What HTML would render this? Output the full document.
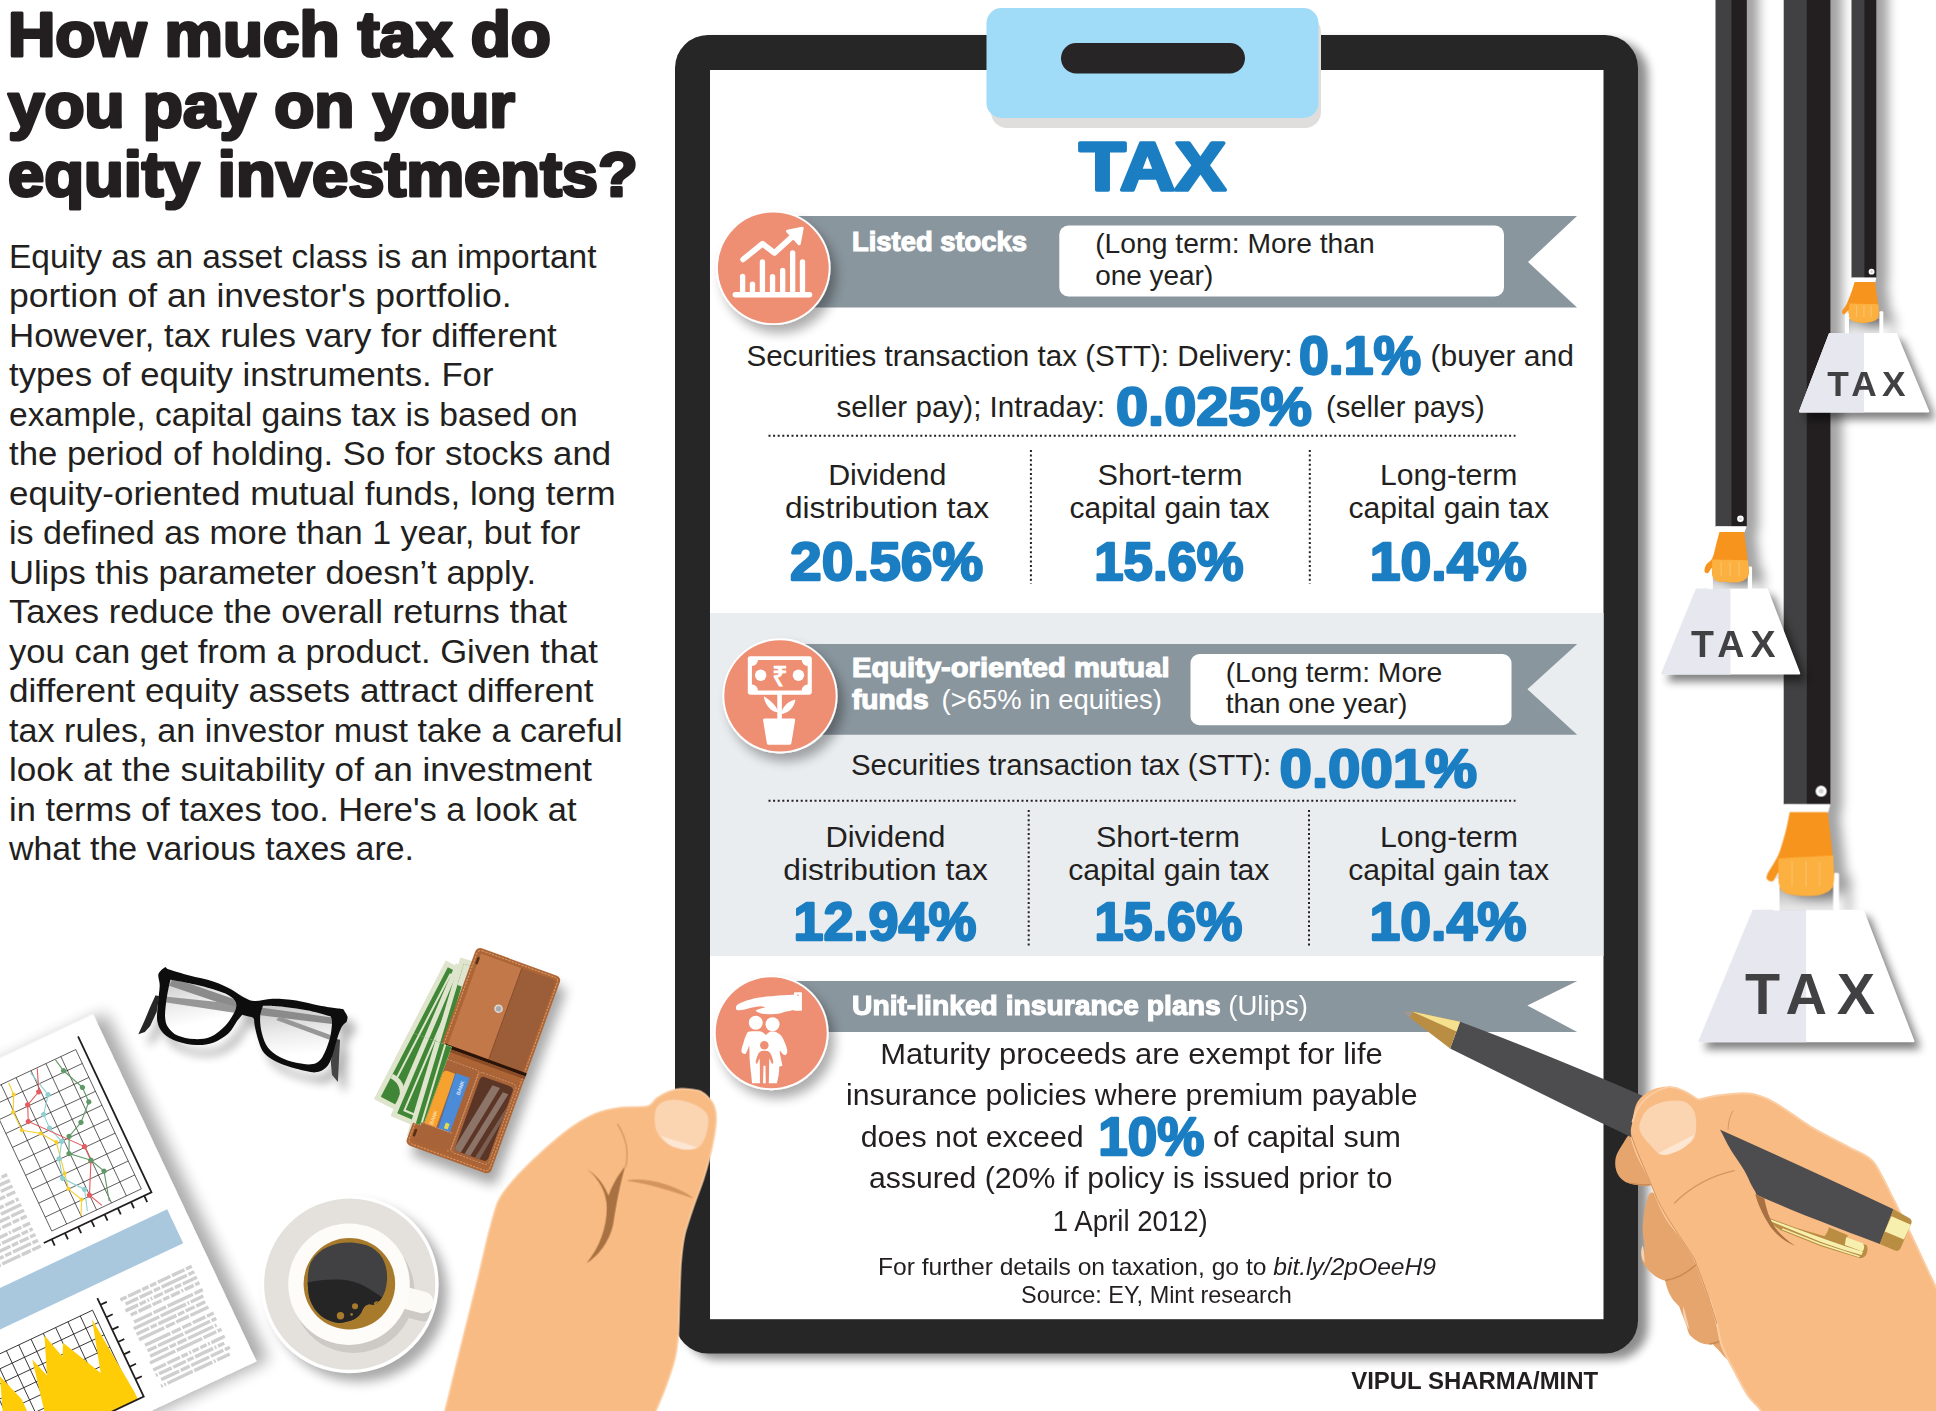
<!DOCTYPE html>
<html lang="en"><head><meta charset="utf-8"><title>How much tax do you pay on your equity investments?</title>
<style>
html,body{margin:0;padding:0;background:#fff;}
body{width:1936px;height:1411px;overflow:hidden;font-family:"Liberation Sans",sans-serif;}
svg{display:block;}
text{font-family:"Liberation Sans",sans-serif;}
.b{font-weight:bold;}
.k{fill:#231f20;}
.bl{fill:#1b7ec2;font-weight:bold;stroke:#1b7ec2;stroke-width:2.3px;stroke-linejoin:round;}
.w{fill:#fff;}
</style></head><body>
<svg width="1936" height="1411" viewBox="0 0 1936 1411">
<defs>
<filter id="sh" x="-20%" y="-20%" width="150%" height="150%"><feGaussianBlur in="SourceAlpha" stdDeviation="5"/><feOffset dx="10" dy="6"/><feComponentTransfer><feFuncA type="linear" slope="0.45"/></feComponentTransfer><feMerge><feMergeNode/><feMergeNode in="SourceGraphic"/></feMerge></filter>
<filter id="shs" x="-20%" y="-20%" width="150%" height="150%"><feGaussianBlur in="SourceAlpha" stdDeviation="4"/><feOffset dx="6" dy="6"/><feComponentTransfer><feFuncA type="linear" slope="0.4"/></feComponentTransfer><feMerge><feMergeNode/><feMergeNode in="SourceGraphic"/></feMerge></filter>
<filter id="shc" x="-20%" y="-20%" width="150%" height="150%"><feGaussianBlur in="SourceAlpha" stdDeviation="6"/><feOffset dx="6" dy="8"/><feComponentTransfer><feFuncA type="linear" slope="0.33"/></feComponentTransfer><feMerge><feMergeNode/><feMergeNode in="SourceGraphic"/></feMerge></filter>
<filter id="shd" x="-10%" y="-10%" width="130%" height="130%"><feGaussianBlur in="SourceAlpha" stdDeviation="8"/><feOffset dx="12" dy="4"/><feComponentTransfer><feFuncA type="linear" slope="0.33"/></feComponentTransfer><feMerge><feMergeNode/><feMergeNode in="SourceGraphic"/></feMerge></filter>
<filter id="shg" x="-20%" y="-20%" width="150%" height="160%"><feGaussianBlur stdDeviation="42"/><feOffset dx="70" dy="90"/><feComponentTransfer><feFuncA type="linear" slope="0.3"/></feComponentTransfer></filter>
<linearGradient id="lensg" x1="0" y1="0" x2="0.25" y2="1"><stop offset="0" stop-color="#c9c9c9"/><stop offset="0.45" stop-color="#ececec"/><stop offset="0.8" stop-color="#fff"/></linearGradient>
<linearGradient id="lensg2" x1="0.3" y1="0" x2="0.4" y2="1"><stop offset="0" stop-color="#c9c9c9"/><stop offset="0.5" stop-color="#eee"/><stop offset="0.85" stop-color="#fff"/></linearGradient>
<filter id="shw" x="-30%" y="-20%" width="170%" height="150%"><feGaussianBlur stdDeviation="6"/><feOffset dx="9" dy="9"/><feComponentTransfer><feFuncA type="linear" slope="0.34"/></feComponentTransfer></filter>
<linearGradient id="armsh" x1="0" y1="0" x2="1" y2="0"><stop offset="0" stop-color="#000" stop-opacity="0.36"/><stop offset="0.12" stop-color="#000" stop-opacity="0.33"/><stop offset="0.55" stop-color="#000" stop-opacity="0.07"/><stop offset="1" stop-color="#000" stop-opacity="0"/></linearGradient>
<linearGradient id="hsh" x1="0" y1="0" x2="0" y2="1"><stop offset="0" stop-color="#000" stop-opacity="0.3"/><stop offset="1" stop-color="#000" stop-opacity="0.08"/></linearGradient>
<filter id="shwt" x="-20%" y="-20%" width="150%" height="150%"><feGaussianBlur stdDeviation="4"/><feOffset dx="6" dy="7"/><feComponentTransfer><feFuncA type="linear" slope="0.5"/></feComponentTransfer></filter>
<filter id="sharm" filterUnits="userSpaceOnUse" x="1600" y="-60" width="400" height="1200"><feGaussianBlur stdDeviation="5.5"/><feOffset dx="12" dy="3"/><feComponentTransfer><feFuncA type="linear" slope="0.36"/></feComponentTransfer></filter>
</defs>
<g id="doc" transform="translate(256.4 1361.3) rotate(-25.2)">
<rect x="-420" y="-383.2" width="420" height="383.2" fill="#fff" filter="url(#shd)"/>
<path d="M-30.7 -359V-205.0M-47.2 -359V-205.0M-63.7 -359V-205.0M-80.2 -359V-205.0M-96.7 -359V-205.0M-113.2 -359V-205.0M-129.7 -359V-205.0M-30.7 -359.0H-129.7M-30.7 -343.6H-129.7M-30.7 -328.2H-129.7M-30.7 -312.8H-129.7M-30.7 -297.4H-129.7M-30.7 -282.0H-129.7M-30.7 -266.6H-129.7M-30.7 -251.2H-129.7M-30.7 -235.8H-129.7M-30.7 -220.4H-129.7M-30.7 -205.0H-129.7" stroke="#231f20" stroke-width="0.65" fill="none"/>
<path d="M-23 -370V-197.6H-142M-31.0 -197.6v7M-45.6 -197.6v7M-60.2 -197.6v7M-74.8 -197.6v7M-89.4 -197.6v7M-104.0 -197.6v7M-118.6 -197.6v7M-133.2 -197.6v7" stroke="#231f20" stroke-width="1.8" fill="none"/>
<polyline points="-105.6,-357.2 -106.1,-344.6 -114.1,-329.0 -113.8,-308.9 -98.1,-298.0 -87.8,-283.5 -93.5,-251.7 -96.6,-236.1 -89.3,-220.8 -96.7,-206.5" fill="none" stroke="#f6cf2c" stroke-width="1.1"/>
<g fill="#f6cf2c"><circle cx="-106.1" cy="-344.6" r="2.0"/><circle cx="-114.1" cy="-329.0" r="2.0"/><circle cx="-113.8" cy="-308.9" r="2.0"/><circle cx="-98.1" cy="-298.0" r="2.0"/><circle cx="-87.8" cy="-283.5" r="2.0"/><circle cx="-93.5" cy="-251.7" r="2.0"/><circle cx="-96.6" cy="-236.1" r="2.0"/><circle cx="-89.3" cy="-220.8" r="2.0"/></g>
<polyline points="-81.5,-357.1 -75.0,-329.9 -87.4,-313.9 -87.9,-299.0 -82.4,-281.9 -92.3,-267.2 -97.4,-248.1 -82.3,-228.7 -89.0,-207.7" fill="none" stroke="#8fcfd2" stroke-width="1.1"/>
<g fill="#8fcfd2"><circle cx="-75.0" cy="-329.9" r="2.6"/><circle cx="-87.4" cy="-313.9" r="2.6"/><circle cx="-87.9" cy="-299.0" r="2.6"/><circle cx="-82.4" cy="-281.9" r="2.6"/><circle cx="-92.3" cy="-267.2" r="2.6"/><circle cx="-97.4" cy="-248.1" r="2.6"/><circle cx="-82.3" cy="-228.7" r="2.6"/></g>
<polyline points="-73.6,-358.2 -82.2,-336.5 -97.8,-329.4 -104.3,-314.1 -64.1,-267.5 -64.4,-251.8 -80.3,-221.4 -73.4,-206.8" fill="none" stroke="#e75a5e" stroke-width="1.1"/>
<g fill="#e75a5e"><circle cx="-82.2" cy="-336.5" r="2.6"/><circle cx="-97.8" cy="-329.4" r="2.6"/><circle cx="-104.3" cy="-314.1" r="2.6"/><circle cx="-64.1" cy="-267.5" r="2.6"/><circle cx="-64.4" cy="-251.8" r="2.6"/><circle cx="-80.3" cy="-221.4" r="2.6"/></g>
<polyline points="-53.5,-358.5 -50.8,-345.0 -40.8,-321.9 -41.2,-306.0 -57.0,-290.9 -73.7,-283.3 -81.1,-267.7 -64.1,-252.4 -56.9,-237.0 -64.9,-207.6" fill="none" stroke="#5f9a66" stroke-width="1.1"/>
<g fill="#5f9a66"><circle cx="-50.8" cy="-345.0" r="2.6"/><circle cx="-40.8" cy="-321.9" r="2.6"/><circle cx="-41.2" cy="-306.0" r="2.6"/><circle cx="-57.0" cy="-290.9" r="2.6"/><circle cx="-73.7" cy="-283.3" r="2.6"/><circle cx="-81.1" cy="-267.7" r="2.6"/><circle cx="-64.1" cy="-252.4" r="2.6"/><circle cx="-56.9" cy="-237.0" r="2.6"/></g>
<path d="M-297.0 -275.0h2.0M-293.4 -275.0h28.0M-263.8 -275.0h14.0M-248.2 -275.0h14.0M-232.6 -275.0h7.0M-224.0 -275.0h2.0M-220.4 -275.0h2.0M-216.8 -275.0h2.0M-213.2 -275.0h14.0M-197.6 -275.0h20.0M-176.0 -275.0h10.0M-164.4 -275.0h2.0M-160.8 -275.0h7.0M-152.2 -275.0h6.2M-300.0 -268.7h10.0M-288.4 -268.7h7.0M-279.8 -268.7h2.0M-276.2 -268.7h10.0M-264.6 -268.7h7.0M-256.0 -268.7h2.0M-252.4 -268.7h28.0M-222.8 -268.7h10.0M-211.2 -268.7h10.0M-199.6 -268.7h7.0M-191.0 -268.7h7.0M-182.4 -268.7h10.0M-170.8 -268.7h10.0M-159.2 -268.7h13.2M-300.0 -262.4h10.0M-288.4 -262.4h2.0M-284.8 -262.4h20.0M-263.2 -262.4h10.0M-251.6 -262.4h28.0M-222.0 -262.4h14.0M-206.4 -262.4h20.0M-184.8 -262.4h7.0M-176.2 -262.4h7.0M-167.6 -262.4h7.0M-159.0 -262.4h13.0M-297.0 -256.1h20.0M-275.4 -256.1h10.0M-263.8 -256.1h2.0M-260.2 -256.1h10.0M-248.6 -256.1h20.0M-227.0 -256.1h28.0M-197.4 -256.1h10.0M-185.8 -256.1h20.0M-164.2 -256.1h7.0M-155.6 -256.1h9.6M-300.0 -248.2h10.0M-288.4 -248.2h14.0M-272.8 -248.2h14.0M-257.2 -248.2h7.0M-248.6 -248.2h7.0M-240.0 -248.2h10.0M-228.4 -248.2h10.0M-216.8 -248.2h2.0M-213.2 -248.2h2.0M-209.6 -248.2h2.0M-206.0 -248.2h14.0M-190.4 -248.2h28.0M-160.8 -248.2h10.0M-149.2 -248.2h3.2M-300.0 -241.9h14.0M-284.4 -241.9h28.0M-254.8 -241.9h10.0M-243.2 -241.9h7.0M-234.6 -241.9h28.0M-205.0 -241.9h7.0M-196.4 -241.9h2.0M-192.8 -241.9h14.0M-177.2 -241.9h7.0M-168.6 -241.9h22.6M-300.0 -235.6h10.0M-288.4 -235.6h7.0M-279.8 -235.6h10.0M-268.2 -235.6h14.0M-252.6 -235.6h28.0M-223.0 -235.6h20.0M-201.4 -235.6h10.0M-189.8 -235.6h28.0M-160.2 -235.6h14.2M-297.0 -229.3h10.0M-285.4 -229.3h2.0M-281.8 -229.3h2.0M-278.2 -229.3h28.0M-248.6 -229.3h7.0M-240.0 -229.3h10.0M-228.4 -229.3h20.0M-206.8 -229.3h20.0M-185.2 -229.3h7.0M-176.6 -229.3h2.0M-173.0 -229.3h10.0M-161.4 -229.3h7.0M-152.8 -229.3h6.8M-300.0 -221.4h2.0M-296.4 -221.4h10.0M-284.8 -221.4h28.0M-255.2 -221.4h2.0M-251.6 -221.4h10.0M-240.0 -221.4h28.0M-210.4 -221.4h28.0M-180.8 -221.4h10.0M-169.2 -221.4h2.0M-165.6 -221.4h10.0M-154.0 -221.4h8.0M-300.0 -215.1h7.0M-291.4 -215.1h28.0M-261.8 -215.1h14.0M-246.2 -215.1h20.0M-224.6 -215.1h28.0M-195.0 -215.1h2.0M-191.4 -215.1h10.0M-179.8 -215.1h20.0M-158.2 -215.1h7.0M-149.6 -215.1h3.6M-297.0 -208.8h10.0M-285.4 -208.8h14.0M-269.8 -208.8h20.0M-248.2 -208.8h7.0M-239.6 -208.8h10.0M-228.0 -208.8h20.0M-206.4 -208.8h2.0M-202.8 -208.8h10.0M-191.2 -208.8h2.0M-187.6 -208.8h14.0M-172.0 -208.8h7.0M-163.4 -208.8h10.0M-151.8 -208.8h5.8M-300.0 -202.5h20.0M-278.4 -202.5h2.0M-274.8 -202.5h14.0M-259.2 -202.5h7.0M-250.6 -202.5h14.0M-235.0 -202.5h7.0M-226.4 -202.5h2.0M-222.8 -202.5h2.0M-219.2 -202.5h2.0M-215.6 -202.5h2.0M-212.0 -202.5h28.0M-182.4 -202.5h7.0M-173.8 -202.5h20.0M-152.2 -202.5h6.2M-300.0 -196.2h20.0M-278.4 -196.2h2.0M-274.8 -196.2h20.0M-253.2 -196.2h14.0M-237.6 -196.2h20.0M-216.0 -196.2h7.0M-207.4 -196.2h10.0M-195.8 -196.2h2.0M-192.2 -196.2h2.0M-188.6 -196.2h20.0M-167.0 -196.2h10.0M-155.4 -196.2h9.4" stroke="#cfcfcf" stroke-width="3.4" fill="none"/>
<rect x="-420" y="-175.5" width="404" height="37.5" fill="#a9c8dd"/>
<path d="M-126.5 -116V-16M-140.1 -116V-16M-153.7 -116V-16M-167.3 -116V-16M-180.9 -116V-16M-194.5 -116V-16M-208.1 -116V-16M-221.7 -116V-16M-235.3 -116V-16M-248.9 -116V-16M-262.5 -116V-16M-276.1 -116V-16M-289.7 -116V-16M-126.5 -116.0H-289.7M-126.5 -102.4H-289.7M-126.5 -88.8H-289.7M-126.5 -75.2H-289.7M-126.5 -61.6H-289.7M-126.5 -48.0H-289.7M-126.5 -34.4H-289.7M-126.5 -20.8H-289.7" stroke="#231f20" stroke-width="0.8" fill="none"/>
<path d="M-123.4 -16L-123.4 -24.5L-130.8 -108.1L-145.8 -55.8L-167 -99.2L-173.6 -86.7L-180.8 -113.8L-195.5 -76.2L-202 -97.1L-213.1 -45.3L-220 -16Z" fill="#fecd08"/>
<path d="M-228.9 -16L-228.6 -65.8L-238.4 -95.6L-252 -60L-262 -84L-280 -16Z" fill="#fecd08"/>
<path d="M-117 -125V-16H-260M-117 -117.5h7M-117 -103.8h7M-117 -90.1h7M-117 -76.4h7M-117 -62.7h7M-117 -49.0h7M-117 -35.3h7" stroke="#231f20" stroke-width="1.8" fill="none"/>
<path d="M-97.0 -113.5h7.0M-88.4 -113.5h14.0M-72.8 -113.5h7.0M-64.2 -113.5h7.0M-55.6 -113.5h14.0M-40.0 -113.5h14.0M-24.4 -113.5h6.4M-94.0 -107.5h14.0M-78.4 -107.5h14.0M-62.8 -107.5h7.0M-54.2 -107.5h28.0M-24.6 -107.5h6.6M-97.0 -101.4h14.0M-81.4 -101.4h7.0M-72.8 -101.4h2.0M-69.2 -101.4h2.0M-65.6 -101.4h10.0M-54.0 -101.4h10.0M-42.4 -101.4h7.0M-33.8 -101.4h15.8M-94.0 -95.4h7.0M-85.4 -95.4h14.0M-69.8 -95.4h10.0M-58.2 -95.4h7.0M-49.6 -95.4h10.0M-38.0 -95.4h2.0M-34.4 -95.4h10.0M-22.8 -95.4h4.8M-94.0 -87.7h20.0M-72.4 -87.7h14.0M-56.8 -87.7h28.0M-27.2 -87.7h9.2M-97.0 -81.7h28.0M-67.4 -81.7h28.0M-37.8 -81.7h2.0M-34.2 -81.7h14.0M-97.0 -75.6h14.0M-81.4 -75.6h7.0M-72.8 -75.6h20.0M-51.2 -75.6h7.0M-42.6 -75.6h10.0M-31.0 -75.6h10.0M-97.0 -69.6h28.0M-67.4 -69.6h10.0M-55.8 -69.6h14.0M-40.2 -69.6h20.0M-94.0 -61.9h28.0M-64.4 -61.9h10.0M-52.8 -61.9h10.0M-41.2 -61.9h14.0M-25.6 -61.9h7.6M-94.0 -55.9h10.0M-82.4 -55.9h28.0M-52.8 -55.9h28.0M-23.2 -55.9h5.2M-94.0 -49.8h20.0M-72.4 -49.8h7.0M-63.8 -49.8h10.0M-52.2 -49.8h28.0M-22.6 -49.8h2.0M-97.0 -43.8h28.0M-67.4 -43.8h28.0M-37.8 -43.8h14.0M-22.2 -43.8h4.2M-97.0 -36.1h14.0M-81.4 -36.1h14.0M-65.8 -36.1h7.0M-57.2 -36.1h2.0M-53.6 -36.1h7.0M-45.0 -36.1h7.0M-36.4 -36.1h2.0M-32.8 -36.1h14.8M-97.0 -30.1h2.0M-93.4 -30.1h14.0M-77.8 -30.1h14.0M-62.2 -30.1h7.0M-53.6 -30.1h20.0M-32.0 -30.1h2.0M-28.4 -30.1h7.0M-94.0 -24.0h20.0M-72.4 -24.0h10.0M-60.8 -24.0h20.0M-39.2 -24.0h14.0M-23.6 -24.0h5.6M-97.0 -18.0h2.0M-93.4 -18.0h2.0M-89.8 -18.0h28.0M-60.2 -18.0h20.0M-38.6 -18.0h2.0M-35.0 -18.0h14.0" stroke="#cfcfcf" stroke-width="3.4" fill="none"/>
</g>
<g id="glasses" transform="translate(130 950) scale(0.11881)">
<g filter="url(#shg)"><path d="M300.0 140.0C300.0 140.0 296.7 152.5 330.0 165.0C363.3 177.5 438.3 198.3 500.0 215.0C561.7 231.7 641.7 245.8 700.0 265.0C758.3 284.2 806.7 307.5 850.0 330.0C893.3 352.5 926.7 383.3 960.0 400.0C993.3 416.7 1010.0 428.3 1050.0 430.0C1090.0 431.7 1141.7 410.8 1200.0 410.0C1258.3 409.2 1333.3 415.0 1400.0 425.0C1466.7 435.0 1534.2 457.8 1600.0 470.0C1665.8 482.2 1795.0 498.0 1795.0 498.0C1795.0 498.0 1825.5 542.2 1830.0 560.0C1834.5 577.8 1822.0 605.0 1822.0 605.0C1822.0 605.0 1793.7 624.2 1780.0 650.0C1766.3 675.8 1753.3 718.3 1740.0 760.0C1726.7 801.7 1715.0 861.7 1700.0 900.0C1685.0 938.3 1673.3 968.3 1650.0 990.0C1626.7 1011.7 1601.7 1028.3 1560.0 1030.0C1518.3 1031.7 1451.7 1013.3 1400.0 1000.0C1348.3 986.7 1295.0 971.7 1250.0 950.0C1205.0 928.3 1158.3 901.7 1130.0 870.0C1101.7 838.3 1093.3 798.3 1080.0 760.0C1066.7 721.7 1056.7 670.8 1050.0 640.0C1043.3 609.2 1048.3 588.3 1040.0 575.0C1031.7 561.7 1015.8 565.0 1000.0 560.0C984.2 555.0 945.0 545.0 945.0 545.0C945.0 545.0 919.2 574.2 900.0 600.0C880.8 625.8 863.3 670.0 830.0 700.0C796.7 730.0 745.0 763.3 700.0 780.0C655.0 796.7 610.0 801.7 560.0 800.0C510.0 798.3 446.7 786.7 400.0 770.0C353.3 753.3 308.3 728.3 280.0 700.0C251.7 671.7 237.5 641.7 230.0 600.0C222.5 558.3 231.7 500.0 235.0 450.0C238.3 400.0 249.2 341.7 250.0 300.0C250.8 258.3 231.7 226.7 240.0 200.0C248.3 173.3 300.0 140.0 300.0 140.0ZM340.0 250.0C340.0 250.0 440.0 266.7 500.0 280.0C560.0 293.3 645.0 313.3 700.0 330.0C755.0 346.7 798.3 361.7 830.0 380.0C861.7 398.3 881.7 416.7 890.0 440.0C898.3 463.3 895.0 486.7 880.0 520.0C865.0 553.3 833.3 605.0 800.0 640.0C766.7 675.0 723.3 711.7 680.0 730.0C636.7 748.3 586.7 751.7 540.0 750.0C493.3 748.3 436.7 736.7 400.0 720.0C363.3 703.3 337.5 676.7 320.0 650.0C302.5 623.3 296.7 601.7 295.0 560.0C293.3 518.3 302.5 451.7 310.0 400.0C317.5 348.3 340.0 250.0 340.0 250.0ZM1120.0 470.0C1120.0 470.0 1236.7 473.3 1300.0 480.0C1363.3 486.7 1435.0 496.7 1500.0 510.0C1565.0 523.3 1690.0 560.0 1690.0 560.0C1690.0 560.0 1701.7 588.3 1700.0 620.0C1698.3 651.7 1693.3 703.3 1680.0 750.0C1666.7 796.7 1643.3 865.0 1620.0 900.0C1596.7 935.0 1576.7 951.7 1540.0 960.0C1503.3 968.3 1446.7 960.0 1400.0 950.0C1353.3 940.0 1300.0 921.7 1260.0 900.0C1220.0 878.3 1185.0 853.3 1160.0 820.0C1135.0 786.7 1120.8 741.7 1110.0 700.0C1099.2 658.3 1093.3 608.3 1095.0 570.0C1096.7 531.7 1120.0 470.0 1120.0 470.0Z" fill-rule="evenodd" fill="#000"/><path d="M215.0 380.0L245.0 390.0L225.0 520.0L170.0 640.0L125.0 690.0L70.0 710.0L120.0 600.0L170.0 480.0ZM1735.0 750.0L1768.0 755.0L1760.0 900.0L1750.0 1110.0L1700.0 1050.0L1690.0 940.0L1710.0 840.0Z" fill="#000"/></g>
<path d="M340.0 250.0C340.0 250.0 440.0 266.7 500.0 280.0C560.0 293.3 645.0 313.3 700.0 330.0C755.0 346.7 798.3 361.7 830.0 380.0C861.7 398.3 881.7 416.7 890.0 440.0C898.3 463.3 895.0 486.7 880.0 520.0C865.0 553.3 833.3 605.0 800.0 640.0C766.7 675.0 723.3 711.7 680.0 730.0C636.7 748.3 586.7 751.7 540.0 750.0C493.3 748.3 436.7 736.7 400.0 720.0C363.3 703.3 337.5 676.7 320.0 650.0C302.5 623.3 296.7 601.7 295.0 560.0C293.3 518.3 302.5 451.7 310.0 400.0C317.5 348.3 340.0 250.0 340.0 250.0Z" fill="url(#lensg)"/>
<path d="M1120.0 470.0C1120.0 470.0 1236.7 473.3 1300.0 480.0C1363.3 486.7 1435.0 496.7 1500.0 510.0C1565.0 523.3 1690.0 560.0 1690.0 560.0C1690.0 560.0 1701.7 588.3 1700.0 620.0C1698.3 651.7 1693.3 703.3 1680.0 750.0C1666.7 796.7 1643.3 865.0 1620.0 900.0C1596.7 935.0 1576.7 951.7 1540.0 960.0C1503.3 968.3 1446.7 960.0 1400.0 950.0C1353.3 940.0 1300.0 921.7 1260.0 900.0C1220.0 878.3 1185.0 853.3 1160.0 820.0C1135.0 786.7 1120.8 741.7 1110.0 700.0C1099.2 658.3 1093.3 608.3 1095.0 570.0C1096.7 531.7 1120.0 470.0 1120.0 470.0Z" fill="url(#lensg2)"/>
<clipPath id="cl1"><path d="M340.0 250.0C340.0 250.0 440.0 266.7 500.0 280.0C560.0 293.3 645.0 313.3 700.0 330.0C755.0 346.7 798.3 361.7 830.0 380.0C861.7 398.3 881.7 416.7 890.0 440.0C898.3 463.3 895.0 486.7 880.0 520.0C865.0 553.3 833.3 605.0 800.0 640.0C766.7 675.0 723.3 711.7 680.0 730.0C636.7 748.3 586.7 751.7 540.0 750.0C493.3 748.3 436.7 736.7 400.0 720.0C363.3 703.3 337.5 676.7 320.0 650.0C302.5 623.3 296.7 601.7 295.0 560.0C293.3 518.3 302.5 451.7 310.0 400.0C317.5 348.3 340.0 250.0 340.0 250.0Z"/></clipPath><clipPath id="cl2"><path d="M1120.0 470.0C1120.0 470.0 1236.7 473.3 1300.0 480.0C1363.3 486.7 1435.0 496.7 1500.0 510.0C1565.0 523.3 1690.0 560.0 1690.0 560.0C1690.0 560.0 1701.7 588.3 1700.0 620.0C1698.3 651.7 1693.3 703.3 1680.0 750.0C1666.7 796.7 1643.3 865.0 1620.0 900.0C1596.7 935.0 1576.7 951.7 1540.0 960.0C1503.3 968.3 1446.7 960.0 1400.0 950.0C1353.3 940.0 1300.0 921.7 1260.0 900.0C1220.0 878.3 1185.0 853.3 1160.0 820.0C1135.0 786.7 1120.8 741.7 1110.0 700.0C1099.2 658.3 1093.3 608.3 1095.0 570.0C1096.7 531.7 1120.0 470.0 1120.0 470.0Z"/></clipPath>
<g clip-path="url(#cl1)" fill="#8b8b8b"><path d="M360 235L900 420L890 490L330 300Z"/><path d="M290 390L760 440L900 480L890 530L290 440Z" fill="#979797"/></g>
<g clip-path="url(#cl2)" fill="#8b8b8b"><path d="M1100 485L1720 570L1710 625L1100 550Z"/><path d="M1260 560L1700 720L1690 760L1230 590Z" fill="#979797"/></g>
<path d="M215.0 380.0L245.0 390.0L225.0 520.0L170.0 640.0L125.0 690.0L70.0 710.0L120.0 600.0L170.0 480.0Z" fill="#262626"/><path d="M1735.0 750.0L1768.0 755.0L1760.0 900.0L1750.0 1110.0L1700.0 1050.0L1690.0 940.0L1710.0 840.0Z" fill="#454545"/>
<path d="M300.0 140.0C300.0 140.0 296.7 152.5 330.0 165.0C363.3 177.5 438.3 198.3 500.0 215.0C561.7 231.7 641.7 245.8 700.0 265.0C758.3 284.2 806.7 307.5 850.0 330.0C893.3 352.5 926.7 383.3 960.0 400.0C993.3 416.7 1010.0 428.3 1050.0 430.0C1090.0 431.7 1141.7 410.8 1200.0 410.0C1258.3 409.2 1333.3 415.0 1400.0 425.0C1466.7 435.0 1534.2 457.8 1600.0 470.0C1665.8 482.2 1795.0 498.0 1795.0 498.0C1795.0 498.0 1825.5 542.2 1830.0 560.0C1834.5 577.8 1822.0 605.0 1822.0 605.0C1822.0 605.0 1793.7 624.2 1780.0 650.0C1766.3 675.8 1753.3 718.3 1740.0 760.0C1726.7 801.7 1715.0 861.7 1700.0 900.0C1685.0 938.3 1673.3 968.3 1650.0 990.0C1626.7 1011.7 1601.7 1028.3 1560.0 1030.0C1518.3 1031.7 1451.7 1013.3 1400.0 1000.0C1348.3 986.7 1295.0 971.7 1250.0 950.0C1205.0 928.3 1158.3 901.7 1130.0 870.0C1101.7 838.3 1093.3 798.3 1080.0 760.0C1066.7 721.7 1056.7 670.8 1050.0 640.0C1043.3 609.2 1048.3 588.3 1040.0 575.0C1031.7 561.7 1015.8 565.0 1000.0 560.0C984.2 555.0 945.0 545.0 945.0 545.0C945.0 545.0 919.2 574.2 900.0 600.0C880.8 625.8 863.3 670.0 830.0 700.0C796.7 730.0 745.0 763.3 700.0 780.0C655.0 796.7 610.0 801.7 560.0 800.0C510.0 798.3 446.7 786.7 400.0 770.0C353.3 753.3 308.3 728.3 280.0 700.0C251.7 671.7 237.5 641.7 230.0 600.0C222.5 558.3 231.7 500.0 235.0 450.0C238.3 400.0 249.2 341.7 250.0 300.0C250.8 258.3 231.7 226.7 240.0 200.0C248.3 173.3 300.0 140.0 300.0 140.0ZM340.0 250.0C340.0 250.0 440.0 266.7 500.0 280.0C560.0 293.3 645.0 313.3 700.0 330.0C755.0 346.7 798.3 361.7 830.0 380.0C861.7 398.3 881.7 416.7 890.0 440.0C898.3 463.3 895.0 486.7 880.0 520.0C865.0 553.3 833.3 605.0 800.0 640.0C766.7 675.0 723.3 711.7 680.0 730.0C636.7 748.3 586.7 751.7 540.0 750.0C493.3 748.3 436.7 736.7 400.0 720.0C363.3 703.3 337.5 676.7 320.0 650.0C302.5 623.3 296.7 601.7 295.0 560.0C293.3 518.3 302.5 451.7 310.0 400.0C317.5 348.3 340.0 250.0 340.0 250.0ZM1120.0 470.0C1120.0 470.0 1236.7 473.3 1300.0 480.0C1363.3 486.7 1435.0 496.7 1500.0 510.0C1565.0 523.3 1690.0 560.0 1690.0 560.0C1690.0 560.0 1701.7 588.3 1700.0 620.0C1698.3 651.7 1693.3 703.3 1680.0 750.0C1666.7 796.7 1643.3 865.0 1620.0 900.0C1596.7 935.0 1576.7 951.7 1540.0 960.0C1503.3 968.3 1446.7 960.0 1400.0 950.0C1353.3 940.0 1300.0 921.7 1260.0 900.0C1220.0 878.3 1185.0 853.3 1160.0 820.0C1135.0 786.7 1120.8 741.7 1110.0 700.0C1099.2 658.3 1093.3 608.3 1095.0 570.0C1096.7 531.7 1120.0 470.0 1120.0 470.0Z" fill-rule="evenodd" fill="#0d0d0d"/>
</g>
<g id="wallet">
<g transform="translate(477 946.6) rotate(20)"><rect x="0" y="0" width="90" height="210" rx="5" fill="#000" filter="url(#shw)"/></g>
<g id="bills">
<g transform="translate(445.7 960.4) rotate(27.3)"><rect width="66" height="156" fill="#dfe5cd"/><rect x="5" y="5" width="56" height="146" fill="#3f8736"/><rect x="10.5" y="10.5" width="45" height="135" fill="none" stroke="#dfe5cd" stroke-width="2"/><path d="M5 125a21 21 0 0 1 21 26H5Z" fill="#dfe5cd"/><path d="M5 130a16 16 0 0 1 16 21H5Z" fill="#3f8736"/></g>
<g transform="translate(455.8 963.2) rotate(23.1)"><rect width="66" height="166" fill="#dfe5cd"/><rect x="5" y="5" width="56" height="156" fill="#3f8736"/><rect x="10.5" y="10.5" width="45" height="145" fill="none" stroke="#dfe5cd" stroke-width="2"/></g>
<g transform="translate(460.4 957.6) rotate(16.7)"><rect width="66" height="186" fill="#dfe5cd"/><rect x="5" y="5" width="56" height="176" fill="#3f8736"/><rect x="10.5" y="10.5" width="45" height="165" fill="none" stroke="#dfe5cd" stroke-width="2"/><path d="M5 5h22a20 20 0 0 1 -22 22Z" fill="#dfe5cd"/></g>
</g>
<g transform="translate(477 946.6) rotate(20)">
<rect x="0" y="0" width="90" height="210" rx="5" fill="#ae6535"/>
<rect x="2.2" y="2.2" width="85.6" height="205.6" rx="4" fill="none" stroke="#dba070" stroke-width="0.9" stroke-dasharray="2.2 1.3"/>
<!-- upper half -->
<rect x="6" y="5" width="80" height="97" rx="2" fill="#9c5e39"/>
<path d="M8 5h41.5v97H6V7a2 2 0 0 1 2 -2Z" fill="#c27848"/>
<path d="M49.5 5V102" stroke="#7d4526" stroke-width="0.7"/>
<rect x="4" y="9" width="2.6" height="8" rx="1.2" fill="#5a2f17"/>
<circle cx="41.5" cy="51" r="4.3" fill="#d9d9d9"/><circle cx="41.5" cy="51" r="2.7" fill="#a9a9a9"/>
<!-- fold -->
<rect x="3" y="102" width="87" height="3.4" fill="#2a1409"/>
<rect x="3" y="105.4" width="87" height="3" fill="#8a4d28"/>
<!-- lower half -->
<rect x="6" y="114" width="80" height="90" rx="3" fill="#a86338"/>
<rect x="8.5" y="116" width="36" height="86" rx="2" fill="none" stroke="#d79a6a" stroke-width="0.8" stroke-dasharray="2 1.3"/>
<rect x="45" y="116.5" width="40" height="85.5" rx="4" fill="none" stroke="#d79a6a" stroke-width="0.8" stroke-dasharray="2 1.3"/>
<clipPath id="idw"><rect x="48" y="120" width="35" height="79" rx="4"/></clipPath>
<rect x="48" y="120" width="35" height="79" rx="4" fill="#5b3526"/>
<g clip-path="url(#idw)" fill="#8d7468"><path d="M62 125L70 125L54 205L46 205Z"/><path d="M74 128L80 128L64 205L58 205Z"/><path d="M83 140L86 140L74 205L69 205Z" fill="#7b5f52"/></g>
<!-- cards -->
<g transform="rotate(-20) translate(-477 -946.6)"><clipPath id="billclip"><polygon points="376.0,1019.4 451.6,1047.0 422.9,1125.9 347.3,1098.4"/></clipPath><g clip-path="url(#billclip)"><g><g transform="translate(445.7 960.4) rotate(27.3)"><rect width="66" height="156" fill="#dfe5cd"/><rect x="5" y="5" width="56" height="146" fill="#3f8736"/><rect x="10.5" y="10.5" width="45" height="135" fill="none" stroke="#dfe5cd" stroke-width="2"/><path d="M5 125a21 21 0 0 1 21 26H5Z" fill="#dfe5cd"/><path d="M5 130a16 16 0 0 1 16 21H5Z" fill="#3f8736"/></g>
<g transform="translate(455.8 963.2) rotate(23.1)"><rect width="66" height="166" fill="#dfe5cd"/><rect x="5" y="5" width="56" height="156" fill="#3f8736"/><rect x="10.5" y="10.5" width="45" height="145" fill="none" stroke="#dfe5cd" stroke-width="2"/></g>
<g transform="translate(460.4 957.6) rotate(16.7)"><rect width="66" height="186" fill="#dfe5cd"/><rect x="5" y="5" width="56" height="176" fill="#3f8736"/><rect x="10.5" y="10.5" width="45" height="165" fill="none" stroke="#dfe5cd" stroke-width="2"/><path d="M5 5h22a20 20 0 0 1 -22 22Z" fill="#dfe5cd"/></g></g></g></g>
<path d="M11 131a4 4 0 0 1 4 -4h8.5v66H11Z" fill="#f7a12f"/>
<path d="M23.2 126h15v70H26Z" fill="#4b8bd8"/>
<path d="M23.2 126L26 196" stroke="#3b6fb3" stroke-width="0.6"/>
<rect x="8" y="184" width="33" height="20" fill="#a86338"/>
<path d="M8.5 184H41" stroke="#d79a6a" stroke-width="0.8" stroke-dasharray="2 1.3"/>
<rect x="4" y="192" width="2.6" height="8" rx="1.2" fill="#5a2f17"/>
<text transform="translate(19.5 183) rotate(-90)" font-size="5.2" font-weight="bold" fill="#fcd9a0" font-family="Liberation Serif,serif">BANK</text>
<text transform="translate(34.5 146) rotate(-90)" font-size="5.2" font-weight="bold" fill="#cfe0f5" font-family="Liberation Serif,serif">BANK</text>
<rect x="31" y="176" width="4" height="6" fill="#e9d94a"/>
</g>
</g>
<g id="coffee">
<circle cx="349.7" cy="1284.2" r="88.5" fill="#000" filter="url(#shw)"/>
<circle cx="349.7" cy="1284.2" r="89" fill="#fff"/>
<circle cx="349.7" cy="1284.2" r="85.6" fill="#e4e1dc"/>
<clipPath id="saucer"><circle cx="349.7" cy="1284.2" r="85.6"/></clipPath>
<g clip-path="url(#saucer)" fill="#cdcac6"><circle cx="353.5" cy="1292" r="61"/><path d="M405 1306L424 1311" stroke="#cdcac6" stroke-width="21" stroke-linecap="round"/></g>
<path d="M404 1297.5L423 1302.5" stroke="#fbfaf5" stroke-width="21.5" stroke-linecap="round"/>
<circle cx="349" cy="1284.2" r="60.8" fill="#fdfcf8"/>
<circle cx="349.4" cy="1283.8" r="45.8" fill="#a87b2c"/>
<clipPath id="cof"><path d="M311 1262C322 1243 345 1240 362 1244C380 1248 388 1262 387 1280C386 1296 379 1303 373 1305C368 1303 364 1306 362 1311C359 1318 353 1321 340 1323C325 1322 313 1312 309 1296C307 1283 307 1271 311 1262Z"/></clipPath>
<g clip-path="url(#cof)"><rect x="300" y="1235" width="100" height="95" fill="#414042"/><path d="M300 1284C320 1279 345 1277 360 1284C375 1291 385 1300 395 1306V1335H300Z" fill="#252525"/>
<circle cx="340.5" cy="1315.7" r="3.7" fill="#a87b2c"/><circle cx="355" cy="1306.2" r="3" fill="#a87b2c"/><circle cx="377.2" cy="1304.7" r="3.4" fill="#a87b2c"/><circle cx="351.6" cy="1314.4" r="1.3" fill="#a87b2c"/></g>
</g>
<g id="arms">
<g filter="url(#sharm)" fill="#000"><rect x="1715.5" y="-40" width="31.3" height="566.6"/><rect x="1783.7" y="-40" width="46.7" height="844.5"/><rect x="1851.5" y="-40" width="24.8" height="317.8"/><g transform="translate(1650 500) scale(0.14174)"><path d="M462.0 186.0L682.0 186.0L667.0 227.0L488.0 227.0ZM490.0 225.0C490.0 225.0 665.0 225.0 665.0 225.0C665.0 225.0 690.8 417.5 695.0 470.0C699.2 522.5 699.2 522.5 690.0 540.0C680.8 557.5 661.7 568.3 640.0 575.0C618.3 581.7 588.3 580.8 560.0 580.0C531.7 579.2 490.0 578.3 470.0 570.0C450.0 561.7 445.8 545.0 440.0 530.0C434.2 515.0 440.0 482.5 435.0 480.0C430.0 477.5 418.3 510.8 410.0 515.0C401.7 519.2 387.5 514.2 385.0 505.0C382.5 495.8 385.8 475.8 395.0 460.0C404.2 444.2 427.5 436.7 440.0 410.0C452.5 383.3 461.7 330.8 470.0 300.0C478.3 269.2 490.0 225.0 490.0 225.0Z"/><rect x="690" y="470" width="30" height="159"/></g><g transform="translate(1690 770) scale(0.20551)"><path d="M455.0 166.0L683.0 166.0L672.0 207.0L483.0 207.0ZM485.0 205.0C485.0 205.0 670.0 205.0 670.0 205.0C670.0 205.0 692.0 387.5 697.0 440.0C702.0 492.5 701.2 497.5 700.0 520.0C698.8 542.5 700.0 560.8 690.0 575.0C680.0 589.2 661.7 598.8 640.0 605.0C618.3 611.2 588.3 612.8 560.0 612.0C531.7 611.2 490.8 608.7 470.0 600.0C449.2 591.3 441.7 576.7 435.0 560.0C428.3 543.3 435.0 503.3 430.0 500.0C425.0 496.7 413.7 534.2 405.0 540.0C396.3 545.8 383.0 540.0 378.0 535.0C373.0 530.0 369.7 524.2 375.0 510.0C380.3 495.8 400.0 468.3 410.0 450.0C420.0 431.7 425.8 425.0 435.0 400.0C444.2 375.0 456.7 332.5 465.0 300.0C473.3 267.5 485.0 205.0 485.0 205.0Z"/><rect x="697" y="500" width="28" height="184"/></g><g transform="translate(1780 250) scale(0.12755)"><path d="M560.0 216.0L755.0 216.0L747.0 252.0L583.0 252.0ZM585.0 250.0C585.0 250.0 745.0 250.0 745.0 250.0C745.0 250.0 772.5 431.7 775.0 480.0C777.5 528.3 772.5 525.8 760.0 540.0C747.5 554.2 720.0 560.0 700.0 565.0C680.0 570.0 663.3 572.5 640.0 570.0C616.7 567.5 576.7 561.7 560.0 550.0C543.3 538.3 544.2 512.5 540.0 500.0C535.8 487.5 541.7 474.2 535.0 475.0C528.3 475.8 508.0 504.2 500.0 505.0C492.0 505.8 483.7 492.5 487.0 480.0C490.3 467.5 507.8 455.0 520.0 430.0C532.2 405.0 549.2 360.0 560.0 330.0C570.8 300.0 585.0 250.0 585.0 250.0Z"/><rect x="780" y="480" width="30" height="174"/></g></g>
<rect x="1715.5" y="0" width="16.5" height="526.6" fill="#414042"/><rect x="1731.5" y="0" width="15.3" height="526.6" fill="#231f20"/>
<rect x="1783.7" y="0" width="23.6" height="804.5" fill="#414042"/><rect x="1806.8" y="0" width="23.6" height="804.5" fill="#231f20"/>
<rect x="1851.5" y="0" width="13.2" height="277.8" fill="#414042"/><rect x="1864.2" y="0" width="12.1" height="277.8" fill="#231f20"/>
<path d="M1696 588.6H1767.6L1800.2 673.1Q1800.8 674.6 1798.7 674.6H1662.8Q1660.7 674.6 1661.3 673.1Z" fill="#000" filter="url(#shwt)"/>
<path d="M1696 588.6H1767.6L1800.2 673.1Q1800.8 674.6 1798.7 674.6H1662.8Q1660.7 674.6 1661.3 673.1Z" fill="#fff"/>
<path d="M1696 588.6H1730.4V674.6H1662.8Q1660.7 674.6 1661.3 673.1Z" fill="#e6e7ef"/>
<text x="1691.1" y="656.6" font-size="37.5" font-weight="bold" fill="#414042" textLength="84.3" lengthAdjust="spacing">TAX</text>
<g transform="translate(1650 500) scale(0.14174)">
<rect x="442" y="530" width="248" height="97" fill="url(#hsh)"/>
<rect x="412" y="490" width="30" height="139" fill="#fff"/><rect x="690" y="470" width="30" height="159" rx="8" fill="#fff"/>
<path d="M462.0 186.0L682.0 186.0L667.0 227.0L488.0 227.0Z" fill="#fff"/>
<path d="M490.0 225.0C490.0 225.0 665.0 225.0 665.0 225.0C665.0 225.0 690.8 417.5 695.0 470.0C699.2 522.5 699.2 522.5 690.0 540.0C680.8 557.5 661.7 568.3 640.0 575.0C618.3 581.7 588.3 580.8 560.0 580.0C531.7 579.2 490.0 578.3 470.0 570.0C450.0 561.7 445.8 545.0 440.0 530.0C434.2 515.0 440.0 482.5 435.0 480.0C430.0 477.5 418.3 510.8 410.0 515.0C401.7 519.2 387.5 514.2 385.0 505.0C382.5 495.8 385.8 475.8 395.0 460.0C404.2 444.2 427.5 436.7 440.0 410.0C452.5 383.3 461.7 330.8 470.0 300.0C478.3 269.2 490.0 225.0 490.0 225.0Z" fill="#f7941e"/>
<path d="M440.0 420.0C440.0 420.0 690.0 425.0 690.0 425.0C690.0 425.0 695.0 450.8 695.0 470.0C695.0 489.2 699.2 522.5 690.0 540.0C680.8 557.5 661.7 568.3 640.0 575.0C618.3 581.7 588.3 580.8 560.0 580.0C531.7 579.2 490.0 578.3 470.0 570.0C450.0 561.7 445.0 555.0 440.0 530.0C435.0 505.0 440.0 420.0 440.0 420.0Z" fill="#fbb040"/>
<path d="M502 435V535M565 435V535M628 435V535" stroke="#fdc778" stroke-width="6.3" fill="none"/>
<circle cx="638" cy="133" r="23" fill="#fff"/><circle cx="638" cy="133" r="10.3" fill="#d1d3d4"/>
</g>
<path d="M1752.7 909.7H1863.7L1914.4 1040.8Q1915.0 1042.3 1912.9 1042.3H1700.1Q1698.0 1042.3 1698.6 1040.8Z" fill="#000" filter="url(#shwt)"/>
<path d="M1752.7 909.7H1863.7L1914.4 1040.8Q1915.0 1042.3 1912.9 1042.3H1700.1Q1698.0 1042.3 1698.6 1040.8Z" fill="#fff"/>
<path d="M1752.7 909.7H1806.1V1042.3H1700.1Q1698.0 1042.3 1698.6 1040.8Z" fill="#e6e7ef"/>
<text x="1745.1" y="1013.5" font-size="57.4" font-weight="bold" fill="#414042" textLength="129.9" lengthAdjust="spacing">TAX</text>
<g transform="translate(1690 770) scale(0.20551)">
<rect x="435" y="570" width="262" height="112" fill="url(#hsh)"/>
<rect x="405" y="530" width="30" height="154" fill="#fff"/><rect x="697" y="500" width="28" height="184" rx="8" fill="#fff"/>
<path d="M455.0 166.0L683.0 166.0L672.0 207.0L483.0 207.0Z" fill="#fff"/>
<path d="M485.0 205.0C485.0 205.0 670.0 205.0 670.0 205.0C670.0 205.0 692.0 387.5 697.0 440.0C702.0 492.5 701.2 497.5 700.0 520.0C698.8 542.5 700.0 560.8 690.0 575.0C680.0 589.2 661.7 598.8 640.0 605.0C618.3 611.2 588.3 612.8 560.0 612.0C531.7 611.2 490.8 608.7 470.0 600.0C449.2 591.3 441.7 576.7 435.0 560.0C428.3 543.3 435.0 503.3 430.0 500.0C425.0 496.7 413.7 534.2 405.0 540.0C396.3 545.8 383.0 540.0 378.0 535.0C373.0 530.0 369.7 524.2 375.0 510.0C380.3 495.8 400.0 468.3 410.0 450.0C420.0 431.7 425.8 425.0 435.0 400.0C444.2 375.0 456.7 332.5 465.0 300.0C473.3 267.5 485.0 205.0 485.0 205.0Z" fill="#f7941e"/>
<path d="M430.0 430.0C430.0 430.0 697.0 415.0 697.0 415.0C697.0 415.0 701.2 493.3 700.0 520.0C698.8 546.7 700.0 560.8 690.0 575.0C680.0 589.2 661.7 598.8 640.0 605.0C618.3 611.2 588.3 612.8 560.0 612.0C531.7 611.2 490.8 608.7 470.0 600.0C449.2 591.3 441.7 588.3 435.0 560.0C428.3 531.7 430.0 430.0 430.0 430.0Z" fill="#fbb040"/>
<path d="M497 445V567M564 445V567M630 445V567" stroke="#fdc778" stroke-width="4.4" fill="none"/>
<circle cx="638" cy="103" r="27" fill="#fff"/><circle cx="638" cy="103" r="12.2" fill="#d1d3d4"/>
</g>
<path d="M1829.1 332.9H1896.7L1929.2 411.1Q1929.8 412.6 1927.7 412.6H1800.6Q1798.5 412.6 1799.1 411.1Z" fill="#000" filter="url(#shwt)"/>
<path d="M1829.1 332.9H1896.7L1929.2 411.1Q1929.8 412.6 1927.7 412.6H1800.6Q1798.5 412.6 1799.1 411.1Z" fill="#fff"/>
<path d="M1829.1 332.9H1863.9V412.6H1800.6Q1798.5 412.6 1799.1 411.1Z" fill="#e6e7ef"/>
<text x="1827.2" y="395.8" font-size="35.3" font-weight="bold" fill="#414042" textLength="78.4" lengthAdjust="spacing">TAX</text>
<g transform="translate(1780 250) scale(0.12755)">
<rect x="540" y="540" width="240" height="112" fill="url(#hsh)"/>
<rect x="510" y="500" width="30" height="154" fill="#fff"/><rect x="780" y="480" width="30" height="174" rx="8" fill="#fff"/>
<path d="M560.0 216.0L755.0 216.0L747.0 252.0L583.0 252.0Z" fill="#fff"/>
<path d="M585.0 250.0C585.0 250.0 745.0 250.0 745.0 250.0C745.0 250.0 772.5 431.7 775.0 480.0C777.5 528.3 772.5 525.8 760.0 540.0C747.5 554.2 720.0 560.0 700.0 565.0C680.0 570.0 663.3 572.5 640.0 570.0C616.7 567.5 576.7 561.7 560.0 550.0C543.3 538.3 544.2 512.5 540.0 500.0C535.8 487.5 541.7 474.2 535.0 475.0C528.3 475.8 508.0 504.2 500.0 505.0C492.0 505.8 483.7 492.5 487.0 480.0C490.3 467.5 507.8 455.0 520.0 430.0C532.2 405.0 549.2 360.0 560.0 330.0C570.8 300.0 585.0 250.0 585.0 250.0Z" fill="#f7941e"/>
<path d="M545.0 420.0C545.0 420.0 770.0 425.0 770.0 425.0C770.0 425.0 776.7 460.8 775.0 480.0C773.3 499.2 772.5 525.8 760.0 540.0C747.5 554.2 720.0 560.0 700.0 565.0C680.0 570.0 663.3 572.5 640.0 570.0C616.7 567.5 576.7 561.7 560.0 550.0C543.3 538.3 542.5 521.7 540.0 500.0C537.5 478.3 545.0 420.0 545.0 420.0Z" fill="#fbb040"/>
<path d="M601 435V525M658 435V525M714 435V525" stroke="#fdc778" stroke-width="7.1" fill="none"/>
<circle cx="718" cy="170" r="23" fill="#fff"/><circle cx="718" cy="170" r="10.3" fill="#d1d3d4"/>
</g>
</g>
<g id="clipboard">
<rect x="675" y="35" width="963" height="1318.5" rx="33" fill="#272526" filter="url(#sh)"/>
<rect x="710" y="70" width="893.5" height="1249.2" fill="#fff"/>
<rect x="710" y="613" width="893.5" height="343" fill="#e9edf0"/>
<rect x="991" y="16" width="330" height="112" rx="16" fill="#dfdedd"/>
<rect x="986.5" y="8" width="332" height="110" rx="15" fill="#a0dcf8"/>
<rect x="1061" y="43" width="184" height="30.5" rx="15.25" fill="#272526"/>
</g>
<g id="content">
<text x="1079.2" y="190" font-size="68" class="bl" style="stroke-width:3.6px" textLength="146.4" lengthAdjust="spacingAndGlyphs">TAX</text>
<!-- section 1 -->
<path d="M775 216.1H1577L1528 262L1577 307.5H775Z" fill="#8a969e"/>
<rect x="1059.3" y="225.5" width="444.7" height="71" rx="9" fill="#fff"/>
<circle cx="773.3" cy="267.8" r="57.3" fill="#fff" filter="url(#shc)"/>
<circle cx="773.3" cy="267.8" r="55.4" fill="#ee8e73"/>
<text x="852" y="250.6" font-size="28" class="b w" stroke="#fff" stroke-width="1.2" textLength="175" lengthAdjust="spacingAndGlyphs">Listed stocks</text>
<text x="1095.2" y="253.3" font-size="28" class="k" textLength="279.5" lengthAdjust="spacingAndGlyphs">(Long term: More than</text>
<text x="1095.2" y="285.2" font-size="28" class="k" textLength="118" lengthAdjust="spacingAndGlyphs">one year)</text>
<text x="746.4" y="365.5" font-size="30" class="k" textLength="546" lengthAdjust="spacingAndGlyphs">Securities transaction tax (STT): Delivery:</text>
<text x="1299" y="374" font-size="53.5" class="bl" textLength="122" lengthAdjust="spacingAndGlyphs">0.1%</text>
<text x="1430.6" y="365.5" font-size="30" class="k" textLength="143.3" lengthAdjust="spacingAndGlyphs">(buyer and</text>
<text x="836.4" y="416.7" font-size="30" class="k" textLength="268.6" lengthAdjust="spacingAndGlyphs">seller pay); Intraday:</text>
<text x="1116" y="425" font-size="53.5" class="bl" textLength="195.8" lengthAdjust="spacingAndGlyphs">0.025%</text>
<text x="1326" y="416.7" font-size="30" class="k" textLength="158.8" lengthAdjust="spacingAndGlyphs">(seller pays)</text>
<g stroke="#231f20" stroke-width="2" stroke-dasharray="2 2.6" fill="none">
<path d="M768.5 435.8H1515.5"/><path d="M1030.9 450V584"/><path d="M1309.8 450V584"/>
<path d="M768.5 800.8H1515.5"/><path d="M1028.7 810V946"/><path d="M1309 810V946"/>
</g>
<g font-size="30" class="k" text-anchor="middle" lengthAdjust="spacingAndGlyphs">
<text lengthAdjust="spacingAndGlyphs" x="887.3" y="485.2" textLength="118.2">Dividend</text>
<text lengthAdjust="spacingAndGlyphs" x="887" y="518.2" textLength="204">distribution tax</text>
<text lengthAdjust="spacingAndGlyphs" x="1170" y="485.2" textLength="145">Short-term</text>
<text lengthAdjust="spacingAndGlyphs" x="1169.5" y="518" textLength="200">capital gain tax</text>
<text lengthAdjust="spacingAndGlyphs" x="1448.7" y="485.2" textLength="137.4">Long-term</text>
<text lengthAdjust="spacingAndGlyphs" x="1448.7" y="518" textLength="200.5">capital gain tax</text>
<text lengthAdjust="spacingAndGlyphs" x="885.5" y="846.8" textLength="120">Dividend</text>
<text lengthAdjust="spacingAndGlyphs" x="885.5" y="879.5" textLength="204.5">distribution tax</text>
<text lengthAdjust="spacingAndGlyphs" x="1168" y="846.8" textLength="144">Short-term</text>
<text lengthAdjust="spacingAndGlyphs" x="1168.8" y="879.5" textLength="201.3">capital gain tax</text>
<text lengthAdjust="spacingAndGlyphs" x="1449" y="846.8" textLength="138">Long-term</text>
<text lengthAdjust="spacingAndGlyphs" x="1448.6" y="879.5" textLength="200.8">capital gain tax</text>
</g>
<g font-size="53.5" class="bl" text-anchor="middle" lengthAdjust="spacingAndGlyphs">
<text lengthAdjust="spacingAndGlyphs" x="886.6" y="580" textLength="193.2">20.56%</text>
<text lengthAdjust="spacingAndGlyphs" x="1169" y="580" textLength="149.4">15.6%</text>
<text lengthAdjust="spacingAndGlyphs" x="1448.2" y="580" textLength="157">10.4%</text>
<text lengthAdjust="spacingAndGlyphs" x="885" y="940" textLength="182.8">12.94%</text>
<text lengthAdjust="spacingAndGlyphs" x="1168.4" y="940" textLength="147.8">15.6%</text>
<text lengthAdjust="spacingAndGlyphs" x="1448" y="940" textLength="157">10.4%</text>
</g>
<!-- section 2 -->
<path d="M782 644.1H1577.2L1527.4 689.3L1577.2 734.8H782Z" fill="#8a969e"/>
<rect x="1190.5" y="654" width="321" height="71.2" rx="9" fill="#fff"/>
<circle cx="780" cy="695.9" r="57.6" fill="#fff" filter="url(#shc)"/>
<circle cx="780" cy="695.9" r="55.7" fill="#ee8e73"/>
<text x="852" y="676.7" font-size="28" class="b w" stroke="#fff" stroke-width="1.2" textLength="317.5" lengthAdjust="spacingAndGlyphs">Equity-oriented mutual</text>
<text x="852" y="708.5" font-size="28" class="b w" stroke="#fff" stroke-width="1.2" textLength="76.6" lengthAdjust="spacingAndGlyphs">funds</text>
<text x="941.5" y="708.5" font-size="28" class="w" textLength="220.3" lengthAdjust="spacingAndGlyphs">(&gt;65% in equities)</text>
<text x="1225.7" y="682" font-size="28" class="k" textLength="216.5" lengthAdjust="spacingAndGlyphs">(Long term: More</text>
<text x="1225.7" y="713" font-size="28" class="k" textLength="181.6" lengthAdjust="spacingAndGlyphs">than one year)</text>
<text x="851" y="775.4" font-size="30" class="k" textLength="420.2" lengthAdjust="spacingAndGlyphs">Securities transaction tax (STT):</text>
<text x="1279.5" y="787.2" font-size="53.5" class="bl" textLength="197.5" lengthAdjust="spacingAndGlyphs">0.001%</text>
<!-- section 3 -->
<path d="M773 981H1577.2L1527.4 1005.5L1577.2 1032H773Z" fill="#8a969e"/>
<circle cx="771.2" cy="1032.8" r="57.4" fill="#fff" filter="url(#shc)"/>
<circle cx="771.2" cy="1032.8" r="55.5" fill="#ee8e73"/>
<text x="852" y="1015.3" font-size="28" class="b w" stroke="#fff" stroke-width="1.2" textLength="368.6" lengthAdjust="spacingAndGlyphs">Unit-linked insurance plans</text>
<text x="1228.3" y="1015.3" font-size="28" class="w" textLength="79.6" lengthAdjust="spacingAndGlyphs">(Ulips)</text>
<text x="880.3" y="1064.2" font-size="30" class="k" textLength="502.5" lengthAdjust="spacingAndGlyphs">Maturity proceeds are exempt for life</text>
<text x="846" y="1105" font-size="30" class="k" textLength="571.6" lengthAdjust="spacingAndGlyphs">insurance policies where premium payable</text>
<text x="860.7" y="1146.7" font-size="30" class="k" textLength="223" lengthAdjust="spacingAndGlyphs">does not exceed</text>
<text x="1098.3" y="1154.6" font-size="53.5" class="bl" textLength="106.2" lengthAdjust="spacingAndGlyphs">10%</text>
<text x="1213" y="1146.7" font-size="30" class="k" textLength="188" lengthAdjust="spacingAndGlyphs">of capital sum</text>
<text x="869" y="1188.2" font-size="30" class="k" textLength="523.5" lengthAdjust="spacingAndGlyphs">assured (20% if policy is issued prior to</text>
<text x="1052.8" y="1230.7" font-size="30" class="k" textLength="155" lengthAdjust="spacingAndGlyphs">1 April 2012)</text>
<text x="878" y="1275" font-size="24" class="k" textLength="558" lengthAdjust="spacingAndGlyphs">For further details on taxation, go to <tspan font-style="italic">bit.ly/2pOeeH9</tspan></text>
<text x="1021" y="1303" font-size="24" class="k" textLength="270.7" lengthAdjust="spacingAndGlyphs">Source: EY, Mint research</text>
</g>
<text x="1351.2" y="1389.4" font-size="24" class="b k" textLength="247" lengthAdjust="spacingAndGlyphs">VIPUL SHARMA/MINT</text>
<g id="icon1" transform="translate(710 205) scale(0.09213)" fill="#fff">
<rect x="245" y="945" width="865" height="60" rx="30"/>
<rect x="325" y="745" width="58" height="215" rx="29"/>
<rect x="432" y="830" width="58" height="130" rx="29"/>
<rect x="540" y="590" width="58" height="370" rx="29"/>
<rect x="650" y="750" width="58" height="210" rx="29"/>
<rect x="760" y="680" width="58" height="280" rx="29"/>
<rect x="868" y="490" width="58" height="470" rx="29"/>
<rect x="975" y="590" width="58" height="370" rx="29"/>
<path d="M360 590L570 420L700 520L890 345" fill="none" stroke="#fff" stroke-width="62" stroke-linecap="round" stroke-linejoin="round"/>
<path d="M1000 252L842 285L968 420Z" stroke="#fff" stroke-width="34" stroke-linejoin="round"/>
</g>
<g id="icon2" transform="translate(716 632) scale(0.09213)" fill="#fff">
<rect x="345" y="262" width="695" height="418" rx="26"/>
<path d="M455 305H930A65 65 0 0 0 995 370V570A65 65 0 0 0 930 635H455A65 65 0 0 0 390 570V370A65 65 0 0 0 455 305Z" fill="#ee8e73"/>
<circle cx="485" cy="470" r="62"/><circle cx="895" cy="470" r="62"/>
<text x="690" y="585" font-size="300" font-weight="bold" text-anchor="middle" fill="#fff" font-family="Liberation Sans,DejaVu Sans,sans-serif">₹</text>
<rect x="665" y="670" width="50" height="280"/>
<path d="M518 698C560 725 640 770 682 875C600 870 535 800 518 698Z"/>
<path d="M862 733C790 750 725 800 703 892C790 880 850 820 862 733Z"/>
<path d="M525 940H845Q862 940 859 957L818 1208Q815 1225 798 1225H572Q555 1225 552 1208L511 957Q508 940 525 940Z"/>
</g>
<g id="icon3" transform="translate(706 968) scale(0.09213)" fill="#fff">
<path d="M325.0 440.0C324.2 430.3 324.2 413.3 340.0 400.0C355.8 386.7 383.3 373.0 420.0 360.0C456.7 347.0 503.3 332.0 560.0 322.0C616.7 312.0 694.2 305.3 760.0 300.0C825.8 294.7 955.0 290.0 955.0 290.0C955.0 290.0 955.0 455.0 955.0 455.0C955.0 455.0 905.8 463.7 880.0 470.0C854.2 476.3 830.0 487.7 800.0 493.0C770.0 498.3 735.0 502.5 700.0 502.0C665.0 501.5 616.7 496.2 590.0 490.0C563.3 483.8 543.3 472.2 540.0 465.0C536.7 457.8 552.5 453.7 570.0 447.0C587.5 440.3 645.0 425.0 645.0 425.0C645.0 425.0 614.2 414.2 590.0 415.0C565.8 415.8 528.3 424.2 500.0 430.0C471.7 435.8 445.8 445.3 420.0 450.0C394.2 454.7 360.8 459.7 345.0 458.0C329.2 456.3 325.8 449.7 325.0 440.0Z"/>
<rect x="955" y="262" width="86" height="203" rx="8"/><circle cx="998" cy="296" r="9" fill="#ee8e73"/>
<circle cx="540" cy="595" r="76"/><circle cx="722" cy="610" r="76"/>
<path d="M470.0 690.0C445.0 695.3 450.0 701.7 440.0 720.0C430.0 738.3 419.2 771.7 410.0 800.0C400.8 828.3 387.5 869.7 385.0 890.0C382.5 910.3 387.5 915.3 395.0 922.0C402.5 928.7 420.0 937.0 430.0 930.0C440.0 923.0 448.3 893.3 455.0 880.0C461.7 866.7 466.7 830.0 470.0 850.0C473.3 870.0 471.7 950.0 475.0 1000.0C478.3 1050.0 485.8 1108.3 490.0 1150.0C494.2 1191.7 500.0 1250.0 500.0 1250.0C500.0 1250.0 770.0 1250.0 770.0 1250.0C770.0 1250.0 785.8 1180.0 790.0 1150.0C794.2 1120.0 795.0 1070.0 795.0 1070.0C795.0 1070.0 830.0 1060.0 830.0 1060.0C830.0 1060.0 820.0 1016.7 815.0 990.0C810.0 963.3 797.5 910.0 800.0 900.0C802.5 890.0 819.2 922.5 830.0 930.0C840.8 937.5 856.3 950.0 865.0 945.0C873.7 940.0 882.8 920.8 882.0 900.0C881.2 879.2 870.3 846.7 860.0 820.0C849.7 793.3 835.0 760.0 820.0 740.0C805.0 720.0 785.0 708.3 770.0 700.0C755.0 691.7 743.3 690.8 730.0 690.0C716.7 689.2 703.3 688.7 690.0 695.0C676.7 701.3 650.0 728.0 650.0 728.0C650.0 728.0 630.0 706.7 620.0 700.0C610.0 693.3 615.0 689.7 590.0 688.0C565.0 686.3 495.0 684.7 470.0 690.0Z"/>
<g fill="#ee8e73"><circle cx="633" cy="838" r="46"/>
<path d="M592.0 905.0C611.7 897.5 658.3 897.5 678.0 905.0C697.7 912.5 701.3 930.8 710.0 950.0C718.7 969.2 729.3 1005.7 730.0 1020.0C730.7 1034.3 720.7 1041.8 714.0 1036.0C707.3 1030.2 694.7 984.3 690.0 985.0C685.3 985.7 687.3 994.2 686.0 1040.0C684.7 1085.8 682.0 1260.0 682.0 1260.0C682.0 1260.0 650.0 1260.0 650.0 1260.0C650.0 1260.0 646.0 1060.0 646.0 1060.0C646.0 1060.0 624.0 1060.0 624.0 1060.0C624.0 1060.0 620.0 1260.0 620.0 1260.0C620.0 1260.0 588.0 1260.0 588.0 1260.0C588.0 1260.0 585.3 1085.8 584.0 1040.0C582.7 994.2 584.7 985.7 580.0 985.0C575.3 984.3 562.7 1030.2 556.0 1036.0C549.3 1041.8 539.3 1034.3 540.0 1020.0C540.7 1005.7 551.3 969.2 560.0 950.0C568.7 930.8 572.3 912.5 592.0 905.0Z"/></g>
</g>
<g id="lhand" transform="translate(440 1070) scale(0.24174)">
<path d="M1000.0 78.0C1016.2 78.0 1064.4 82.6 1080.0 90.0C1095.6 97.4 1122.6 125.6 1130.0 140.0C1137.4 154.4 1142.6 188.4 1142.0 210.0C1141.4 231.6 1131.2 291.2 1125.0 320.0C1118.8 348.8 1099.0 421.2 1090.0 450.0C1081.0 478.8 1059.4 532.4 1050.0 560.0C1040.6 587.6 1018.5 651.2 1012.0 680.0C1005.5 708.8 998.6 767.6 996.0 800.0C993.4 832.4 991.3 914.0 990.0 950.0C988.7 986.0 987.4 1070.0 985.0 1100.0C982.6 1130.0 976.6 1173.6 970.0 1200.0C963.4 1226.4 940.8 1291.2 930.0 1320.0C919.2 1348.8 880.0 1440.0 880.0 1440.0C880.0 1440.0 0.0 1440.0 0.0 1440.0C0.0 1440.0 12.8 1433.8 20.0 1411.0C27.2 1388.2 49.2 1293.3 60.0 1250.0C70.8 1206.7 98.0 1098.0 110.0 1050.0C122.0 1002.0 149.2 894.4 160.0 850.0C170.8 805.6 190.4 716.6 200.0 680.0C209.6 643.4 228.0 571.4 240.0 545.0C252.0 518.6 278.4 484.6 300.0 460.0C321.6 435.4 391.2 366.4 420.0 340.0C448.8 313.6 513.6 259.0 540.0 240.0C566.4 221.0 616.0 192.1 640.0 182.0C664.0 171.9 713.6 159.8 740.0 156.0C766.4 152.2 841.4 154.6 860.0 150.0C878.6 145.4 884.8 125.2 895.0 118.0C905.2 110.8 932.4 94.8 945.0 90.0C957.6 85.2 983.8 78.0 1000.0 78.0Z" fill="#f9bb84" stroke="#fbcda3" stroke-width="7"/>
<path d="M900.0 150.0C908.7 139.2 921.7 128.7 940.0 125.0C958.3 121.3 986.7 122.5 1010.0 128.0C1033.3 133.5 1063.3 146.0 1080.0 158.0C1096.7 170.0 1107.2 179.7 1110.0 200.0C1112.8 220.3 1105.0 259.2 1097.0 280.0C1089.0 300.8 1078.2 317.2 1062.0 325.0C1045.8 332.8 1022.0 331.7 1000.0 327.0C978.0 322.3 947.5 309.8 930.0 297.0C912.5 284.2 902.0 267.8 895.0 250.0C888.0 232.2 887.2 206.7 888.0 190.0C888.8 173.3 891.3 160.8 900.0 150.0Z" fill="#fbd4b1"/>
<path d="M915 272C960 290 1010 300 1062 318C1040 334 1000 332 960 316C940 306 925 292 915 272Z" fill="#fde6d2"/>
<path d="M735 225C770 280 782 340 768 400" stroke="#d4955e" stroke-width="5" fill="none" stroke-linecap="round"/>
<path d="M608 410C650 435 680 475 697 520C715 470 740 430 766 398C745 470 728 560 716 640C700 710 655 770 606 799C660 735 690 650 690 570C690 510 660 450 608 410Z" fill="#a87141"/>
<path d="M778 458C850 445 960 475 1042 527C960 500 860 465 778 458Z" fill="#d4955e" stroke="#d4955e" stroke-width="5" stroke-linejoin="round"/>
</g>
<g id="rhand">
<g transform="translate(1600 1060) scale(0.24871)">
<path d="M230.0 560.0C256.7 546.7 380.0 716.7 420.0 800.0C460.0 883.3 485.0 1026.7 470.0 1060.0C455.0 1093.3 365.0 1030.0 330.0 1000.0C295.0 970.0 276.7 953.3 260.0 880.0C243.3 806.7 203.3 573.3 230.0 560.0Z" fill="#e6a56c"/>
<path d="M130.0 300.0C116.7 286.7 101.3 323.3 90.0 340.0C78.7 356.7 65.0 380.0 62.0 400.0C59.0 420.0 62.3 443.8 72.0 460.0C81.7 476.2 97.0 490.3 120.0 497.0C143.0 503.7 201.7 512.8 210.0 500.0C218.3 487.2 183.3 453.3 170.0 420.0C156.7 386.7 143.3 313.3 130.0 300.0Z" fill="#e6a56c"/>
<path d="M215.0 535.0C195.8 525.0 192.2 555.8 185.0 580.0C177.8 604.2 172.8 650.0 172.0 680.0C171.2 710.0 180.7 740.0 180.0 760.0C179.3 780.0 164.7 785.0 168.0 800.0C171.3 815.0 184.7 835.5 200.0 850.0C215.3 864.5 240.0 883.3 260.0 887.0C280.0 890.7 296.7 884.8 320.0 872.0C343.3 859.2 403.3 848.7 400.0 810.0C396.7 771.3 330.8 685.8 300.0 640.0C269.2 594.2 234.2 545.0 215.0 535.0Z" fill="#e6a56c"/>
<path d="M290.0 880.0C272.5 893.3 305.8 950.0 315.0 980.0C324.2 1010.0 336.7 1038.3 345.0 1060.0C353.3 1081.7 352.5 1096.3 365.0 1110.0C377.5 1123.7 400.8 1137.8 420.0 1142.0C439.2 1146.2 463.3 1142.0 480.0 1135.0C496.7 1128.0 530.0 1139.2 520.0 1100.0C510.0 1060.8 458.3 936.7 420.0 900.0C381.7 863.3 307.5 866.7 290.0 880.0Z" fill="#e6a56c"/>
<path d="M455.0 1130.0C441.7 1138.3 469.2 1156.7 480.0 1170.0C490.8 1183.3 503.3 1200.0 520.0 1210.0C536.7 1220.0 573.3 1245.0 580.0 1230.0C586.7 1215.0 580.8 1136.7 560.0 1120.0C539.2 1103.3 468.3 1121.7 455.0 1130.0Z" fill="#e6a56c"/>
<path d="M210 500C175 505 140 500 118 495M400 810C360 850 310 880 262 887M520 1100C500 1125 470 1140 440 1142" stroke="#c98a52" stroke-width="6" fill="none"/>
<path d="M172 745C160 770 165 800 180 815C178 790 178 765 172 745ZM335 990C330 1020 340 1060 360 1085C352 1050 345 1020 335 990Z" fill="#f6cfae"/>
<path d="M395.0 160.0C395.0 160.0 445.8 146.2 480.0 142.0C514.2 137.8 563.3 130.3 600.0 135.0C636.7 139.7 658.3 147.5 700.0 170.0C741.7 192.5 800.0 240.0 850.0 270.0C900.0 300.0 960.0 328.3 1000.0 350.0C1040.0 371.7 1067.5 380.0 1090.0 400.0C1112.5 420.0 1120.0 443.3 1135.0 470.0C1150.0 496.7 1160.8 521.7 1180.0 560.0C1199.2 598.3 1226.7 651.7 1250.0 700.0C1273.3 748.3 1300.8 808.3 1320.0 850.0C1339.2 891.7 1351.7 908.3 1365.0 950.0C1378.3 991.7 1400.0 1100.0 1400.0 1100.0C1400.0 1100.0 1400.0 1450.0 1400.0 1450.0C1400.0 1450.0 670.0 1450.0 670.0 1450.0C670.0 1450.0 652.5 1416.7 640.0 1400.0C627.5 1383.3 611.7 1375.0 595.0 1350.0C578.3 1325.0 557.5 1283.3 540.0 1250.0C522.5 1216.7 501.7 1181.7 490.0 1150.0C478.3 1118.3 478.3 1091.7 470.0 1060.0C461.7 1028.3 450.0 990.0 440.0 960.0C430.0 930.0 420.0 906.7 410.0 880.0C400.0 853.3 393.3 826.7 380.0 800.0C366.7 773.3 348.3 746.7 330.0 720.0C311.7 693.3 286.7 666.7 270.0 640.0C253.3 613.3 241.7 586.7 230.0 560.0C218.3 533.3 213.3 510.0 200.0 480.0C186.7 450.0 162.5 410.0 150.0 380.0C137.5 350.0 128.3 321.7 125.0 300.0C121.7 278.3 85.0 273.3 130.0 250.0C175.0 226.7 395.0 160.0 395.0 160.0Z" fill="#f9bb84" stroke="#fbcda3" stroke-width="8"/>
</g>
<g id="pen">
<path d="M1460.1 1021.8Q1620 1081 1893.5 1209.2L1879.8 1244C1840 1229 1800 1214 1764.3 1198.3C1700 1170 1650 1146 1600 1122.2C1550 1098 1500 1073 1450.1 1048.5Z" fill="#4d4d4f"/>
<path d="M1403.4 1011.8L1412 1011.6L1460.1 1021.8L1450.1 1048.5L1409 1017Z" fill="#b98d42"/>
<path d="M1412 1011.6L1460.1 1021.8L1456.5 1031.5Z" fill="#f4e08e"/>
<path d="M1402.6 1011.2L1412.5 1011.8L1409.5 1017.6Z" fill="#9a9a9a"/>
</g>
<g transform="translate(1600 1060) scale(0.24871)">
<path d="M1180 600L1245 636Q1256 644 1252 656L1208 758Q1200 772 1186 766L1125 740Z" fill="#b98d42"/>
<path d="M1172 628L1250 662L1222 722L1145 690Z" fill="#f7efae"/>
<g transform="translate(562.9 442.3) scale(0.40706)">
<path d="M228 452L560 572L835 655C850 640 872 600 878 566L1065 645L1052 688L1250 742Q1275 785 1240 848Q1215 878 1178 870L800 752L400 592L240 486Z" fill="#b98d42"/>
<path d="M250 468L820 676L1040 752L1215 808L1200 840L1030 790L800 712L256 486Z" fill="#f7efae"/>
<path d="M1048 665L1215 724Q1240 770 1208 806L1035 742Z" fill="#f7efae"/>
<path d="M420 575L800 724L1185 850L1178 862L800 740L415 588Z" fill="#f7efae"/>
</g>
<path d="M130.0 250.0C134.2 228.3 136.7 191.7 150.0 170.0C163.3 148.3 188.3 130.3 210.0 120.0C231.7 109.7 256.7 106.0 280.0 108.0C303.3 110.0 330.8 123.3 350.0 132.0C369.2 140.7 380.0 146.2 395.0 160.0C410.0 173.8 425.8 195.8 440.0 215.0C454.2 234.2 465.8 250.8 480.0 275.0C494.2 299.2 508.5 332.2 525.0 360.0C541.5 387.8 564.8 417.8 579.0 442.0C593.2 466.2 601.8 489.0 610.0 505.0C618.2 521.0 622.2 523.8 628.0 538.0C633.8 552.2 639.7 575.5 645.0 590.0C650.3 604.5 651.2 608.8 660.0 625.0C668.8 641.2 684.7 670.8 698.0 687.0C711.3 703.2 725.8 712.2 740.0 722.0C754.2 731.8 783.0 746.0 783.0 746.0C783.0 746.0 747.2 869.3 700.0 900.0C652.8 930.7 543.3 920.0 500.0 930.0C456.7 940.0 455.0 968.3 440.0 960.0C425.0 951.7 420.0 906.7 410.0 880.0C400.0 853.3 393.3 826.7 380.0 800.0C366.7 773.3 348.3 746.7 330.0 720.0C311.7 693.3 286.7 666.7 270.0 640.0C253.3 613.3 241.7 586.7 230.0 560.0C218.3 533.3 213.3 510.0 200.0 480.0C186.7 450.0 162.5 410.0 150.0 380.0C137.5 350.0 128.3 321.7 125.0 300.0C121.7 278.3 125.8 271.7 130.0 250.0Z" fill="#f9bb84"/>

<path d="M130 250C150 170 210 120 280 108C330 112 365 140 395 160" stroke="#fbcda3" stroke-width="7" fill="none"/>
<path d="M125 300C150 380 200 480 230 560C270 640 330 720 380 800C410 880 440 960 470 1060" stroke="#d4955e" stroke-width="4" fill="none"/>
<g transform="translate(562.9 442.3) scale(0.40706)"><path d="M150 238C175 330 215 430 300 560C370 650 450 710 545 748C470 700 400 640 340 560C290 480 260 390 240 282Z" fill="#a87141"/></g>
<path d="M160.0 255.0C164.2 239.2 175.0 214.2 190.0 200.0C205.0 185.8 226.7 175.8 250.0 170.0C273.3 164.2 309.2 160.0 330.0 165.0C350.8 170.0 365.5 184.2 375.0 200.0C384.5 215.8 387.0 240.0 387.0 260.0C387.0 280.0 386.2 303.3 375.0 320.0C363.8 336.7 340.8 349.7 320.0 360.0C299.2 370.3 270.0 385.3 250.0 382.0C230.0 378.7 214.2 354.5 200.0 340.0C185.8 325.5 171.7 309.2 165.0 295.0C158.3 280.8 155.8 270.8 160.0 255.0Z" fill="#fbd4b1"/>
<path d="M235 375C290 345 345 320 378 300C370 335 330 365 280 378C262 382 248 382 235 375Z" fill="#fde6d2"/>
<path d="M300 575C365 510 450 465 540 445" stroke="#d4955e" stroke-width="5" fill="none" stroke-linecap="round"/>
<path d="M515 278C517 245 523 222 535 205" stroke="#d4955e" stroke-width="4" fill="none" stroke-linecap="round"/>
</g></g>
<g id="lefttext">
<g font-size="63.5" class="b k" stroke="#231f20" stroke-width="3.2" stroke-linejoin="round" lengthAdjust="spacingAndGlyphs">
<text lengthAdjust="spacingAndGlyphs" x="7.9" y="56.3" textLength="543">How much tax do</text>
<text lengthAdjust="spacingAndGlyphs" x="7.9" y="126.8" textLength="507">you pay on your</text>
<text lengthAdjust="spacingAndGlyphs" x="7.9" y="195.8" textLength="630">equity investments?</text>
</g>
<g font-size="32.5" class="k" lengthAdjust="spacingAndGlyphs">
<text lengthAdjust="spacingAndGlyphs" x="9" y="267.5" textLength="587.5">Equity as an asset class is an important</text>
<text lengthAdjust="spacingAndGlyphs" x="9" y="307" textLength="502.6">portion of an investor's portfolio.</text>
<text lengthAdjust="spacingAndGlyphs" x="9" y="346.5" textLength="547.8">However, tax rules vary for different</text>
<text lengthAdjust="spacingAndGlyphs" x="9" y="386" textLength="484.5">types of equity instruments. For</text>
<text lengthAdjust="spacingAndGlyphs" x="9" y="425.6" textLength="568.7">example, capital gains tax is based on</text>
<text lengthAdjust="spacingAndGlyphs" x="9" y="465.1" textLength="602">the period of holding. So for stocks and</text>
<text lengthAdjust="spacingAndGlyphs" x="9" y="504.6" textLength="606.7">equity-oriented mutual funds, long term</text>
<text lengthAdjust="spacingAndGlyphs" x="9" y="544.1" textLength="571.3">is defined as more than 1 year, but for</text>
<text lengthAdjust="spacingAndGlyphs" x="9" y="583.6" textLength="527">Ulips this parameter doesn’t apply.</text>
<text lengthAdjust="spacingAndGlyphs" x="9" y="623.2" textLength="558">Taxes reduce the overall returns that</text>
<text lengthAdjust="spacingAndGlyphs" x="9" y="662.7" textLength="589">you can get from a product. Given that</text>
<text lengthAdjust="spacingAndGlyphs" x="9" y="702.2" textLength="584.6">different equity assets attract different</text>
<text lengthAdjust="spacingAndGlyphs" x="9" y="741.7" textLength="613.6">tax rules, an investor must take a careful</text>
<text lengthAdjust="spacingAndGlyphs" x="9" y="781.2" textLength="583">look at the suitability of an investment</text>
<text lengthAdjust="spacingAndGlyphs" x="9" y="820.8" textLength="567.6">in terms of taxes too. Here's a look at</text>
<text lengthAdjust="spacingAndGlyphs" x="9" y="860.3" textLength="405">what the various taxes are.</text>
</g>
</g>

</svg>
</body></html>
